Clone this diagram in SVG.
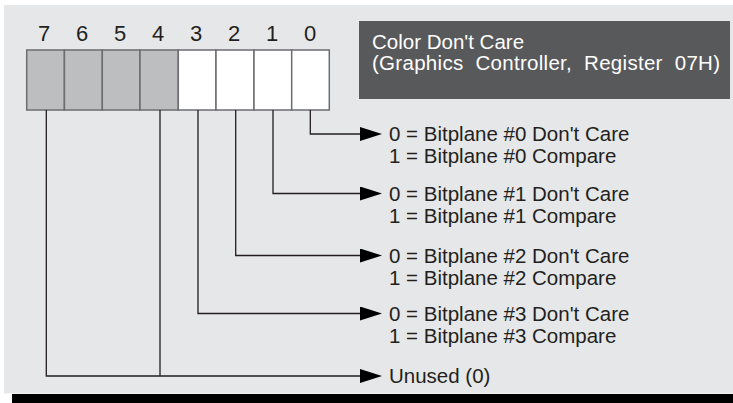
<svg xmlns="http://www.w3.org/2000/svg" width="733" height="403" viewBox="0 0 733 403">
<style>
.bit{font-family:"Liberation Sans",Arial,sans-serif;font-size:22px;fill:#231f20;text-anchor:middle}
.lbl{font-family:"Liberation Sans",Arial,sans-serif;font-size:20.5px;fill:#231f20}
.ttl{font-family:"Liberation Sans",Arial,sans-serif;font-size:20.5px;fill:#ffffff}
.cell{stroke:#6d6e71;stroke-width:1.5}
.con{fill:none;stroke:#231f20;stroke-width:1.3}
</style>
<defs>
<marker id="ah" markerUnits="userSpaceOnUse" markerWidth="24" markerHeight="16" refX="0" refY="7" orient="auto">
<path d="M0,0 L22,7 L0,14 Z" fill="#000"/>
</marker>
</defs>
<rect x="0" y="0" width="733" height="403" fill="#ffffff"/>
<rect x="4" y="5" width="729" height="388.5" fill="#e6e7e8"/>
<rect x="12" y="394" width="721" height="9" fill="#000"/>
<g id="register">
<rect class="cell" x="26.7" y="50" width="37.7" height="60" fill="#bcbec0"/>
<rect class="cell" x="64.4" y="50" width="37.9" height="60" fill="#bcbec0"/>
<rect class="cell" x="102.3" y="50" width="37.7" height="60" fill="#bcbec0"/>
<rect class="cell" x="140" y="50" width="38.3" height="60" fill="#bcbec0"/>
<rect class="cell" x="178.3" y="50" width="37.7" height="60" fill="#ffffff"/>
<rect class="cell" x="216" y="50" width="38" height="60" fill="#ffffff"/>
<rect class="cell" x="254" y="50" width="37.7" height="60" fill="#ffffff"/>
<rect class="cell" x="291.7" y="50" width="37.6" height="60" fill="#ffffff"/>
<text class="bit" x="44" y="41">7</text>
<text class="bit" x="82" y="41">6</text>
<text class="bit" x="120" y="41">5</text>
<text class="bit" x="158" y="41">4</text>
<text class="bit" x="196" y="41">3</text>
<text class="bit" x="234" y="41">2</text>
<text class="bit" x="272" y="41">1</text>
<text class="bit" x="310" y="41">0</text>
</g>
<g id="title">
<rect x="359" y="21" width="371" height="78" fill="#58595b"/>
<text class="ttl" x="372" y="49">Color Don't Care</text>
<text class="ttl" x="372" y="70" textLength="348" lengthAdjust="spacing" xml:space="preserve">(Graphics  Controller,  Register  07H)</text>
</g>
<g id="connectors">
<path class="con" d="M310.3,110 V134 H360" marker-end="url(#ah)"/>
<path class="con" d="M273,110 V193.5 H360" marker-end="url(#ah)"/>
<path class="con" d="M235.7,110 V255.5 H360" marker-end="url(#ah)"/>
<path class="con" d="M198,110 V313.5 H360" marker-end="url(#ah)"/>
<path class="con" d="M160,110 V376"/>
<path class="con" d="M46.3,110 V376 H360" marker-end="url(#ah)"/>
</g>
<g id="bit0">
<text class="lbl" x="389" y="141">0 = Bitplane #0 Don't Care</text>
<text class="lbl" x="389" y="163">1 = Bitplane #0 Compare</text>
</g>
<g id="bit1">
<text class="lbl" x="389" y="200.5">0 = Bitplane #1 Don't Care</text>
<text class="lbl" x="389" y="222.5">1 = Bitplane #1 Compare</text>
</g>
<g id="bit2">
<text class="lbl" x="389" y="262.5">0 = Bitplane #2 Don't Care</text>
<text class="lbl" x="389" y="284.5">1 = Bitplane #2 Compare</text>
</g>
<g id="bit3">
<text class="lbl" x="389" y="320.5">0 = Bitplane #3 Don't Care</text>
<text class="lbl" x="389" y="342.5">1 = Bitplane #3 Compare</text>
</g>
<g id="unused">
<text class="lbl" x="389" y="383">Unused (0)</text>
</g>
</svg>
